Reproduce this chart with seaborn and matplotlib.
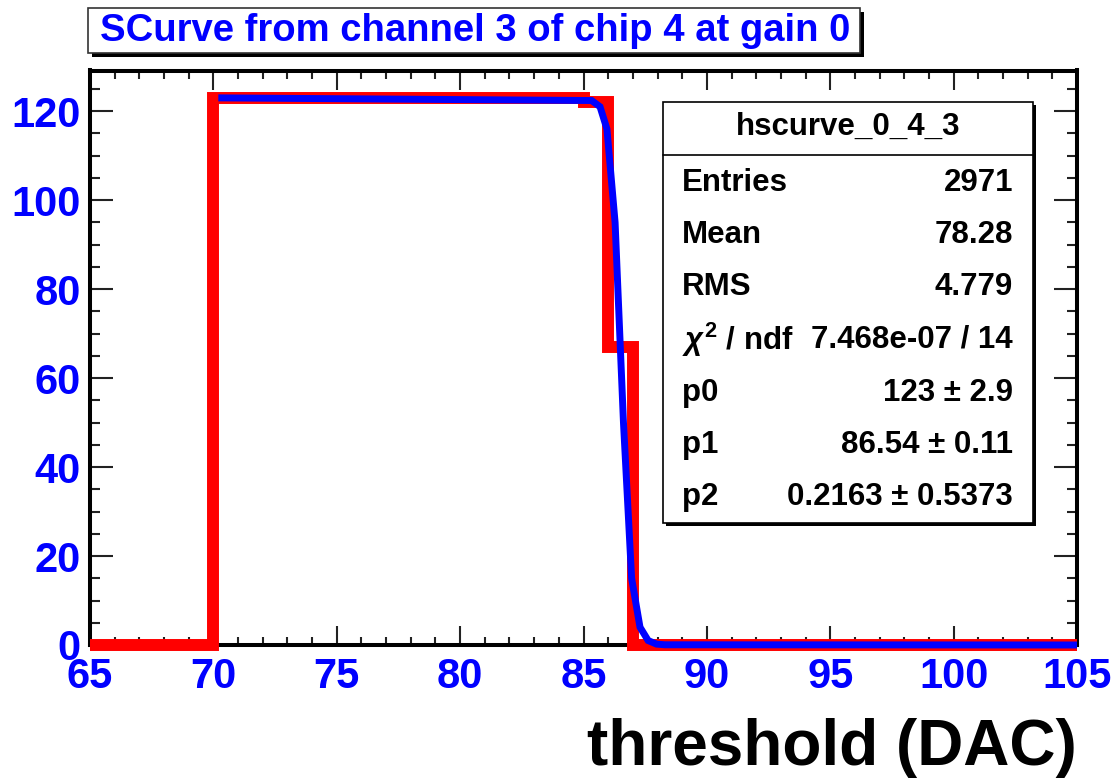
import numpy as np
import pandas as pd
import matplotlib
matplotlib.use("Agg")
import matplotlib.pyplot as plt
from matplotlib.patches import Rectangle
from matplotlib.lines import Line2D
from matplotlib.ticker import MultipleLocator
import seaborn as sns

# ---- histogram: threshold scan, 1-DAC bins from 65 to 105 ----
bin_low_edges = [65, 66, 67, 68, 69, 70, 71, 72, 73, 74,
                 75, 76, 77, 78, 79, 80, 81, 82, 83, 84,
                 85, 86, 87, 88, 89, 90, 91, 92, 93, 94,
                 95, 96, 97, 98, 99, 100, 101, 102, 103, 104]
bin_counts = [0, 0, 0, 0, 0, 123, 123, 123, 123, 123,
              123, 123, 123, 123, 123, 123, 123, 123, 123, 123,
              122, 67, 0, 0, 0, 0, 0, 0, 0, 0,
              0, 0, 0, 0, 0, 0, 0, 0, 0, 0]
bin_width = 1

# ---- fitted s-curve, sampled points ----
fit_x = [70.2, 85.33, 85.67, 85.95, 86.28, 86.62, 86.95, 87.29, 87.62, 87.96, 88.30, 105.0]
fit_y = [123.0, 122.4, 121.0, 116.0, 95.0, 50.0, 15.0, 4.0, 1.0, 0.2, 0.05, 0.0]

# ---- text ----
title_text = "SCurve from channel 3 of chip 4 at gain 0"
xlabel_text = "threshold (DAC)"
stats_name = "hscurve_0_4_3"
stat_labels = ["Entries", "Mean", "RMS", r"$\chi^{2}$ / ndf", "p0", "p1", "p2"]
stat_values = ["2971", "78.28", "4.779", "7.468e-07 / 14",
               "123 \u00b1 2.9", "86.54 \u00b1 0.11", "0.2163 \u00b1 0.5373"]

sns.set_theme(style="white")
plt.rcParams["font.family"] = ["Liberation Sans", "DejaVu Sans"]
plt.rcParams["font.weight"] = "bold"
plt.rcParams["mathtext.fontset"] = "custom"
plt.rcParams["mathtext.rm"] = "Liberation Sans"
plt.rcParams["mathtext.it"] = "Liberation Sans:italic"
plt.rcParams["mathtext.bf"] = "Liberation Sans:bold"

W, H = 1116, 778
fig = plt.figure(figsize=(W / 100, H / 100), dpi=100)
fig.patch.set_facecolor("white")


def fx(px):
    return px / W


def fy(py):
    return 1 - py / H


ax = fig.add_axes([fx(90), fy(645), (1077 - 90) / W, (645 - 70.5) / H])
ax.set_facecolor("white")

hist_df = pd.DataFrame({
    "threshold": [e + bin_width / 2 for e in bin_low_edges],
    "count": bin_counts,
})
edges = bin_low_edges + [bin_low_edges[-1] + bin_width]
sns.histplot(data=hist_df, x="threshold", weights="count", bins=edges,
             element="step", fill=False, color="#ff0000", linewidth=8.6, ax=ax)

sns.lineplot(x=fit_x, y=fit_y, sort=False, estimator=None,
             color="#0000ff", linewidth=5.0, ax=ax)

for ln in ax.lines:
    ln.set_clip_on(False)
    ln.set_solid_joinstyle("miter")
    ln.set_solid_capstyle("butt")
    ln.set_zorder(4)
for p in ax.patches:
    p.set_clip_on(False)
    p.set_zorder(4)
    p.set_joinstyle("miter")
ax.lines[-1].set_zorder(5)

ax.set_xlim(65, 105)
ax.set_ylim(0, 129.15)
ax.xaxis.set_major_locator(MultipleLocator(5))
ax.xaxis.set_minor_locator(MultipleLocator(1))
ax.yaxis.set_major_locator(MultipleLocator(20))
ax.yaxis.set_minor_locator(MultipleLocator(5))

ax.tick_params(which="both", direction="in", top=True, right=True,
               bottom=True, left=True, color="#222222", width=1.5,
               labelcolor="#0000ff", labelsize=30)
ax.tick_params(axis="x", which="major", length=14, pad=9)
ax.tick_params(axis="x", which="minor", length=6)
ax.tick_params(axis="y", which="major", length=16.5, pad=6.5)
ax.tick_params(axis="y", which="minor", length=7)
for lab in ax.get_xticklabels() + ax.get_yticklabels():
    lab.set_fontweight("bold")

for s in ax.spines.values():
    s.set_visible(True)
    s.set_color("black")
    s.set_linewidth(2.9)
    s.set_zorder(3)

ax.set_ylabel("")
ax.set_xlabel(xlabel_text, fontsize=46, fontweight="bold", color="black",
              loc="right")
ax.xaxis.set_label_coords(1.0, -0.127)

# ---- title box with drop shadow ----
tb_l, tb_t, tb_r, tb_b = 88, 8, 860, 53
fig.add_artist(Rectangle((fx(tb_l + 4), fy(tb_b + 4)), (tb_r - tb_l) / W, (tb_b - tb_t) / H,
                         transform=fig.transFigure, facecolor="black",
                         edgecolor="none", zorder=1))
fig.add_artist(Rectangle((fx(tb_l), fy(tb_b)), (tb_r - tb_l) / W, (tb_b - tb_t) / H,
                         transform=fig.transFigure, facecolor="white",
                         edgecolor="#333333", linewidth=1.2, zorder=2))
fig.text(fx(100), fy(31), title_text, color="#0000ff", fontsize=27.5,
         fontweight="bold", ha="left", va="center", zorder=3)

# ---- statistics box with drop shadow ----
sb_l, sb_t, sb_r, sb_b = 663, 102, 1033, 523
fig.add_artist(Rectangle((fx(sb_l + 3), fy(sb_b + 3)), (sb_r - sb_l) / W, (sb_b - sb_t) / H,
                         transform=fig.transFigure, facecolor="black",
                         edgecolor="none", zorder=6))
fig.add_artist(Rectangle((fx(sb_l), fy(sb_b)), (sb_r - sb_l) / W, (sb_b - sb_t) / H,
                         transform=fig.transFigure, facecolor="white",
                         edgecolor="black", linewidth=1.2, zorder=7))
fig.add_artist(Line2D([fx(sb_l), fx(sb_r)], [fy(155), fy(155)],
                      transform=fig.transFigure, color="black",
                      linewidth=1.2, zorder=8))
fig.text(fx((sb_l + sb_r) / 2), fy(127), stats_name, fontsize=22.5,
         fontweight="bold", color="black", ha="center", va="center", zorder=9)
row_y = [183, 235, 287, 340, 393, 445, 497]
for yy, lab, val in zip(row_y, stat_labels, stat_values):
    fig.text(fx(682), fy(yy), lab, fontsize=22.5, fontweight="bold",
             color="black", ha="left", va="center", zorder=9)
    fig.text(fx(1013), fy(yy), val, fontsize=22.5, fontweight="bold",
             color="black", ha="right", va="center", zorder=9)

fig.savefig("out.png", dpi=100, facecolor="white")
